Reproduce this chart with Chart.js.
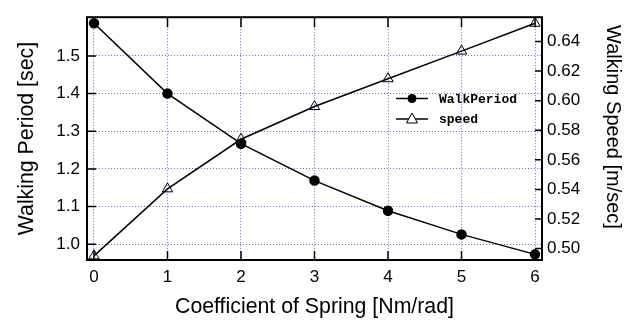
<!DOCTYPE html>
<html>
<head>
<meta charset="utf-8">
<script src="https://cdn.jsdelivr.net/npm/chart.js@4/dist/chart.umd.min.js"></script>
<style>
  html, body { margin: 0; padding: 0; background: #fff; }
  #wrap { width: 631px; height: 320px; }
</style>
</head>
<body>
<div id="wrap"><canvas id="walkChart" width="631" height="320"></canvas></div>
<script>
  // spring coefficient sweep
  const springCoef = [0, 1, 2, 3, 4, 5, 6];
  const walkPeriod = [1.587, 1.400, 1.267, 1.169, 1.089, 1.026, 0.973];
  const walkSpeed = [0.4951, 0.5404, 0.5739, 0.5960, 0.6148, 0.6335, 0.6523];
  const legendNames = ["WalkPeriod", "speed"];
  const speedTitle = "Walking Speed [m/sec]";

  const gridBlue = "rgba(90, 90, 255, 0.9)";
  const sans = "'Liberation Sans', Arial, sans-serif";

  // inward tick marks, frame box, right-hand title and the inset legend
  const frame = {
    id: "frame",
    afterDatasetsDraw(chart) {
      const { ctx, chartArea: a, scales } = chart;
      ctx.save();
      ctx.strokeStyle = "#000";
      ctx.lineWidth = 1.5;
      ctx.beginPath();
      scales.x.ticks.forEach((t) => {
        const x = scales.x.getPixelForValue(t.value);
        ctx.moveTo(x, a.bottom); ctx.lineTo(x, a.bottom - 9);
        ctx.moveTo(x, a.top); ctx.lineTo(x, a.top + 10);
      });
      scales.y.ticks.forEach((t) => {
        const y = scales.y.getPixelForValue(t.value);
        ctx.moveTo(a.left, y); ctx.lineTo(a.left + 9, y);
      });
      scales.y2.ticks.forEach((t) => {
        const y = scales.y2.getPixelForValue(t.value);
        ctx.moveTo(a.right, y); ctx.lineTo(a.right - 7, y);
      });
      ctx.stroke();
      ctx.lineWidth = 2;
      ctx.strokeRect(a.left, a.top, a.right - a.left, a.bottom - a.top);

      ctx.save();
      ctx.translate(613, 127);
      ctx.rotate(Math.PI / 2);
      ctx.font = "20px " + sans;
      ctx.textAlign = "center";
      ctx.textBaseline = "middle";
      ctx.fillStyle = "#000";
      ctx.fillText(speedTitle, 0, 0);
      ctx.restore();

      // legend
      const lx = 396, lw = 32, rows = [98.5, 119];
      ctx.lineWidth = 1.5;
      ctx.font = "bold 13px 'Liberation Mono', 'DejaVu Sans Mono', monospace";
      ctx.textBaseline = "middle";
      ctx.fillStyle = "#000";
      rows.forEach((y, i) => {
        ctx.beginPath();
        ctx.moveTo(lx, y); ctx.lineTo(lx + lw, y);
        ctx.stroke();
        const cx = lx + lw / 2;
        ctx.beginPath();
        if (i === 0) {
          ctx.arc(cx, y, 4.5, 0, Math.PI * 2);
          ctx.fill();
        } else {
          ctx.lineWidth = 1;
          ctx.moveTo(cx, y - 6); ctx.lineTo(cx + 5.5, y + 4); ctx.lineTo(cx - 5.5, y + 4); ctx.closePath();
          ctx.fillStyle = "#fff"; ctx.fill(); ctx.fillStyle = "#000";
          ctx.stroke();
        }
        ctx.fillText(legendNames[i], 439, y + 1);
      });
      ctx.restore();
    }
  };

  new Chart(document.getElementById("walkChart"), {
    type: "line",
    data: {
      datasets: [
        {
          label: legendNames[0],
          data: springCoef.map((x, i) => ({ x, y: walkPeriod[i] })),
          yAxisID: "y",
          borderColor: "#000",
          borderWidth: 1.5,
          pointStyle: "circle",
          pointRadius: 4.5,
          pointBackgroundColor: "#000",
          pointBorderColor: "#000",
          tension: 0
        },
        {
          label: legendNames[1],
          data: springCoef.map((x, i) => ({ x, y: walkSpeed[i] })),
          yAxisID: "y2",
          borderColor: "#000",
          borderWidth: 1.5,
          pointStyle: "triangle",
          pointRadius: 6,
          pointBorderWidth: 1,
          pointBackgroundColor: "rgba(255,255,255,0)",
          pointBorderColor: "#000",
          tension: 0
        }
      ]
    },
    options: {
      responsive: false,
      animation: false,
      layout: { padding: { top: 12, left: 0, right: 0, bottom: 0 } },
      plugins: { legend: { display: false }, tooltip: { enabled: false } },
      scales: {
        x: {
          type: "linear",
          min: -0.095,
          max: 6.095,
          afterFit: (s) => { s.height = 60; },
          ticks: { stepSize: 1, includeBounds: false, color: "#000", padding: 7, font: { family: sans, size: 17 } },
          grid: { color: gridBlue, lineWidth: 1, drawTicks: false },
          border: { display: false, dash: [1, 2] },
          title: { display: true, text: "Coefficient of Spring [Nm/rad]", color: "#000", font: { family: sans, size: 21.3 }, padding: { bottom: 0 } }
        },
        y: {
          position: "left",
          min: 0.958,
          max: 1.603,
          afterFit: (s) => { s.width = 87; },
          afterBuildTicks: (s) => { s.ticks = s.ticks.filter((t) => t.value < 1.55); },
          ticks: { stepSize: 0.1, includeBounds: false, color: "#000", padding: 7, font: { family: sans, size: 17 }, callback: (v) => Number(v).toFixed(1) },
          grid: { color: gridBlue, lineWidth: 1, drawTicks: false },
          border: { display: false, dash: [1, 2] },
          title: { display: true, text: "Walking Period [sec]", color: "#000", font: { family: sans, size: 21.3 }, padding: { top: 14 } }
        },
        y2: {
          position: "right",
          min: 0.4923,
          max: 0.6564,
          afterFit: (s) => { s.width = 89; },
          ticks: { stepSize: 0.02, includeBounds: false, color: "#000", padding: 5, font: { family: sans, size: 17 }, callback: (v) => Number(v).toFixed(2) },
          grid: { display: false, drawTicks: false },
          border: { display: false },
          title: { display: false }
        }
      }
    },
    plugins: [frame]
  });
</script>
</body>
</html>
